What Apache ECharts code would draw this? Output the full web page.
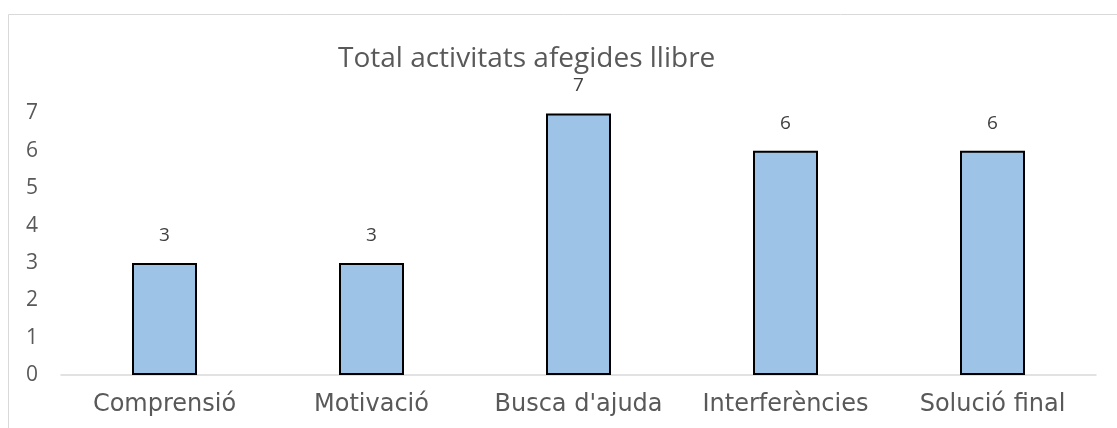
<!DOCTYPE html>
<html>
<head>
<meta charset="utf-8">
<script src="https://cdn.jsdelivr.net/npm/echarts@6/dist/echarts.min.js"></script>
<style>
  html, body { margin: 0; padding: 0; background: #fff; }
  #chart { width: 1117px; height: 428px; }
</style>
</head>
<body>
<div id="chart"></div>
<script>
  var categories = ['Comprensió', 'Motivació', "Busca d'ajuda", 'Interferències', 'Solució final'];
  var values = [3, 3, 7, 6, 6];
  var yTicks = [0, 1, 2, 3, 4, 5, 6, 7];

  var myChart = echarts.init(document.getElementById('chart'));
  myChart.setOption({
    animation: false,
    backgroundColor: '#fff',
    title: {
      text: 'Total activitats afegides llibre',
      left: 338,
      top: 45,
      padding: 0,
      textStyle: {
        fontFamily: 'Open Sans',
        fontSize: 28,
        fontWeight: 'normal',
        color: '#595959'
      }
    },
    graphic: [{
      type: 'rect',
      silent: true,
      shape: { x: 8.5, y: 14.5, width: 1300, height: 600 },
      style: { fill: 'none', stroke: '#d9d9d9', lineWidth: 1 }
    }],
    grid: {
      left: 61,
      right: 21,
      top: 113.5,
      bottom: 53
    },
    xAxis: {
      type: 'category',
      data: categories,
      axisLine: { lineStyle: { color: '#d9d9d9', width: 1.5 } },
      axisTick: { show: false },
      axisLabel: {
        interval: 0,
        hideOverlap: false,
        margin: 18,
        fontFamily: 'DejaVu Sans',
        fontSize: 24,
        color: '#595959'
      }
    },
    yAxis: {
      type: 'value',
      min: yTicks[0],
      max: yTicks[yTicks.length - 1],
      interval: 1,
      splitLine: { show: false },
      axisLine: { show: false },
      axisTick: { show: false },
      axisLabel: {
        margin: 23,
        fontFamily: 'Open Sans',
        fontSize: 21,
        color: '#595959'
      }
    },
    series: [{
      type: 'bar',
      data: values,
      barWidth: '31.4%',
      itemStyle: {
        color: '#9dc3e6',
        borderColor: '#000',
        borderWidth: 2
      },
      label: {
        show: true,
        position: 'top',
        distance: 18,
        fontFamily: 'Open Sans',
        fontSize: 19,
        color: '#404040'
      }
    }]
  });
</script>
</body>
</html>
